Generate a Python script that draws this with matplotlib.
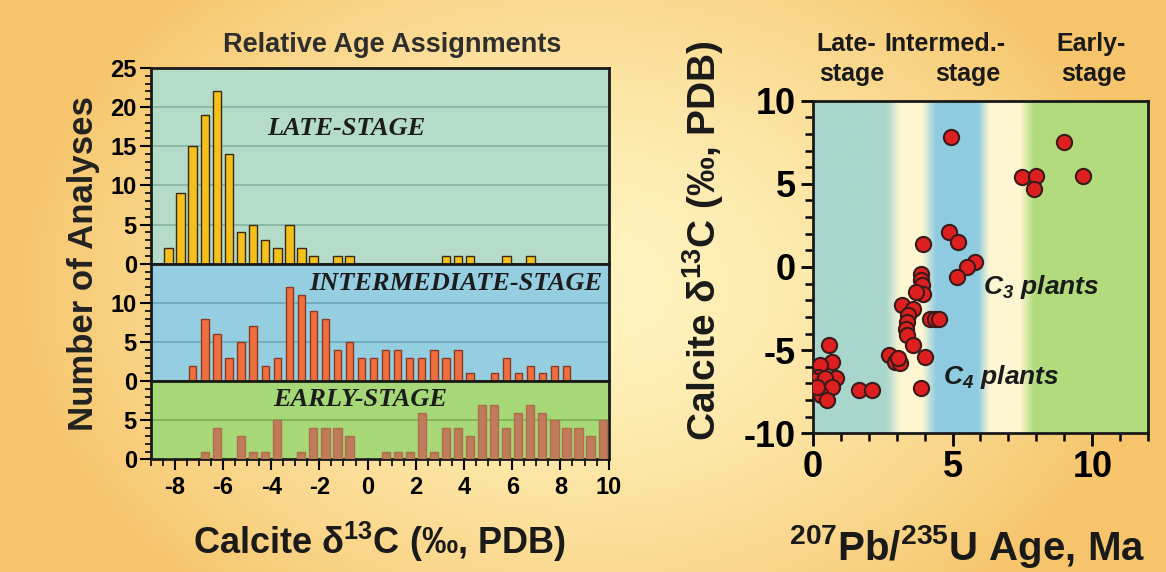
import numpy as np
import matplotlib
matplotlib.use("Agg")
import matplotlib.pyplot as plt
from matplotlib.ticker import MultipleLocator

plt.rcParams['font.family'] = ['Liberation Sans', 'DejaVu Sans']
plt.rcParams['font.weight'] = 'bold'
plt.rcParams['axes.labelweight'] = 'bold'
plt.rcParams['axes.unicode_minus'] = False
plt.rcParams['mathtext.fontset'] = 'custom'
plt.rcParams['mathtext.default'] = 'regular'

# histogram bins (0.5 permil wide)
bin_centers = np.arange(-8.25, 10.0, 0.5)
late_counts = [2, 9, 15, 19, 22, 14, 4, 5, 3, 2, 5, 2, 1, 0, 1, 1, 0, 0, 0,
               0, 0, 0, 0, 1, 1, 1, 0, 0, 1, 0, 1, 0, 0, 0, 0, 0, 0]
inter_counts = [0, 0, 2, 8, 6, 3, 5, 7, 2, 3, 12, 11, 9, 8, 4, 5, 3, 3, 4,
                4, 3, 3, 4, 3, 4, 1, 0, 1, 3, 1, 2, 1, 2, 2, 0, 0, 0]
early_counts = [0, 0, 0, 1, 4, 0, 3, 1, 1, 5, 0, 1, 4, 4, 4, 3, 0, 0, 1,
                1, 1, 6, 1, 4, 4, 3, 7, 7, 4, 6, 7, 6, 5, 4, 4, 3, 5]
panel_names = ['LATE-STAGE', 'INTERMEDIATE-STAGE', 'EARLY-STAGE']

# U-Pb age vs calcite d13C
age_ma = [4.96, 8.98, 7.49, 8.00, 7.92, 9.66, 4.88, 5.20, 3.95, 5.82, 5.50,
          3.89, 5.16, 3.89, 3.92, 3.95, 3.69, 3.21, 3.59, 3.41, 3.36, 3.33,
          3.38, 3.59, 4.19, 4.37, 4.52, 4.01, 2.74, 2.94, 3.12, 3.89, 1.65,
          2.13, 0.58, 0.70, 0.26, 0.82, 0.20, 0.02, 0.44, 0.68, 0.29, 0.52,
          0.14, 3.05]
d13c = [7.8, 7.5, 5.4, 5.5, 4.7, 5.5, 2.1, 1.5, 1.4, 0.3, 0.0,
        -0.4, -0.6, -0.8, -1.1, -1.6, -1.5, -2.3, -2.5, -2.9, -3.3, -3.7,
        -4.1, -4.7, -3.1, -3.1, -3.1, -5.4, -5.3, -5.7, -5.8, -7.3, -7.4,
        -7.4, -4.7, -5.7, -5.9, -6.7, -6.6, -6.8, -6.7, -7.2, -7.7, -8.0,
        -7.2, -5.5]

fig = plt.figure(figsize=(11.66, 5.72), dpi=100)

# warm background
bg = fig.add_axes([0, 0, 1, 1], zorder=-10)
gx, gy = np.meshgrid(np.linspace(-1, 1, 300), np.linspace(-1, 1, 150))
r = np.clip(np.sqrt(gx ** 2 + 0.45 * gy ** 2), 0, 1)
c_in = np.array([255, 244, 192]) / 255
c_out = np.array([246, 196, 106]) / 255
img = c_in + (c_out - c_in) * (r[..., None] ** 1.5)
bg.imshow(img, aspect='auto', extent=[0, 1, 0, 1])
bg.axis('off')

# left histograms
gs = fig.add_gridspec(3, 1, left=0.1292, right=0.5220, bottom=0.1967, top=0.8811,
                      height_ratios=[25, 15, 10], hspace=0)
bg_cols = ['#b4dcc8', '#95cee0', '#a6d877']
grid_cols = ['#86b4a0', '#6aa8bd', '#7aae52']
bar_cols = ['#f6c01c', '#ef6f3e', '#c07c5a']
edge_cols = ['#3a2a10', '#8a3a20', '#b06e4e']
bar_w = [0.36, 0.30, 0.34]
ymaxs = [25, 15, 10]
label_pos = [(-0.9, 17.3), (3.65, 12.5), (-0.3, 7.65)]
all_counts = [late_counts, inter_counts, early_counts]

axes = []
for i in range(3):
    ax = fig.add_subplot(gs[i])
    axes.append(ax)
    ax.set_facecolor(bg_cols[i])
    ax.set_xlim(-9, 10)
    ax.set_ylim(0, ymaxs[i])
    for yv in range(5, ymaxs[i], 5):
        ax.axhline(yv, color=grid_cols[i], lw=1.2, zorder=1)
    ax.bar(bin_centers, all_counts[i], width=bar_w[i], color=bar_cols[i],
           edgecolor=edge_cols[i], linewidth=1.0, zorder=3)
    ax.text(label_pos[i][0], label_pos[i][1], panel_names[i], family='Liberation Serif',
            style='italic', weight='bold', fontsize=19, color='#1c1c1c',
            ha='center', va='center', zorder=4)
    ax.yaxis.set_major_locator(MultipleLocator(5))
    ax.yaxis.set_minor_locator(MultipleLocator(1))
    ax.tick_params(axis='y', which='major', length=8, width=1.5, labelsize=17, pad=2)
    ax.tick_params(axis='y', which='minor', length=4, width=1.2)
    ax.xaxis.set_major_locator(MultipleLocator(2))
    ax.xaxis.set_minor_locator(MultipleLocator(0.5))
    ax.tick_params(axis='x', which='major', length=8, width=1.5, labelsize=17, pad=4)
    ax.tick_params(axis='x', which='minor', length=5, width=1.2)
    for s in ax.spines.values():
        s.set_linewidth(2)
        s.set_color('#1a1a1a')
    if i < 2:
        ax.tick_params(axis='x', which='both', bottom=False, labelbottom=False)
    if i > 0:
        ax.set_yticks(np.arange(0, ymaxs[i], 5))

axes[-1].set_xlabel('Calcite δ$^{13}$C (‰, PDB)', fontsize=26, labelpad=15,
                    color='#1a1a1a')
fig.text(0.072, 0.54, 'Number of Analyses', rotation=90, fontsize=25,
         ha='center', va='center', color='#222222')
fig.text(0.336, 0.921, 'Relative Age Assignments', fontsize=19.5, ha='center',
         va='center', color='#2e2e2e')

# right scatter
ax2 = fig.add_axes([0.697, 0.2425, 0.2878, 0.5815])
stops = [0, 2.6, 3.1, 3.9, 4.4, 5.9, 6.3, 7.4, 7.9, 12]
cols = np.array([[168, 214, 204], [168, 214, 204], [253, 246, 210], [253, 246, 210],
                 [142, 203, 224], [142, 203, 224], [253, 246, 210], [253, 246, 210],
                 [178, 219, 125], [178, 219, 125]]) / 255
xs = np.linspace(0, 12, 600)
band = np.stack([np.interp(xs, stops, cols[:, k]) for k in range(3)], axis=-1)
ax2.imshow(band[None, :, :], aspect='auto', extent=[0, 12, -10, 10], zorder=0)
ax2.scatter(age_ma, d13c, s=120, color='#dd1f1f', edgecolor='#3b1a1a',
            linewidth=1.5, zorder=3)
ax2.text(6.08, -1.2, '$C_3$ plants', style='italic', fontsize=19, va='center',
         color='#1a1a1a')
ax2.text(4.65, -6.6, '$C_4$ plants', style='italic', fontsize=19, va='center',
         color='#1a1a1a')
ax2.set_xlim(0, 12)
ax2.set_ylim(-10, 10)
ax2.xaxis.set_major_locator(MultipleLocator(5))
ax2.xaxis.set_minor_locator(MultipleLocator(1))
ax2.yaxis.set_major_locator(MultipleLocator(5))
ax2.yaxis.set_minor_locator(MultipleLocator(1))
ax2.tick_params(which='major', length=9, width=2, labelsize=26, pad=3)
ax2.tick_params(which='minor', length=6, width=1.8)
for s in ax2.spines.values():
    s.set_linewidth(2)
    s.set_color('#1a1a1a')
ax2.set_ylabel('Calcite δ$^{13}$C (‰, PDB)', fontsize=28, color='#1a1a1a')
ax2.yaxis.set_label_coords(-0.258, 0.58)
ax2.set_xlabel('$^{207}$Pb/$^{235}$U Age, Ma', fontsize=29, color='#1a1a1a')
ax2.xaxis.set_label_coords(0.46, -0.27)

stage_heads = [('Late-', 'stage', 846, 852), ('Intermed.-', 'stage', 945, 968),
               ('Early-', 'stage', 1091, 1094)]
for top, bot, x1, x2 in stage_heads:
    fig.text(x1 / 1166, 1 - 44 / 572, top, fontsize=18, ha='center', va='center',
             color='#1a1a1a')
    fig.text(x2 / 1166, 1 - 74 / 572, bot, fontsize=18, ha='center', va='center',
             color='#1a1a1a')

fig.savefig('out.png', dpi=100)
